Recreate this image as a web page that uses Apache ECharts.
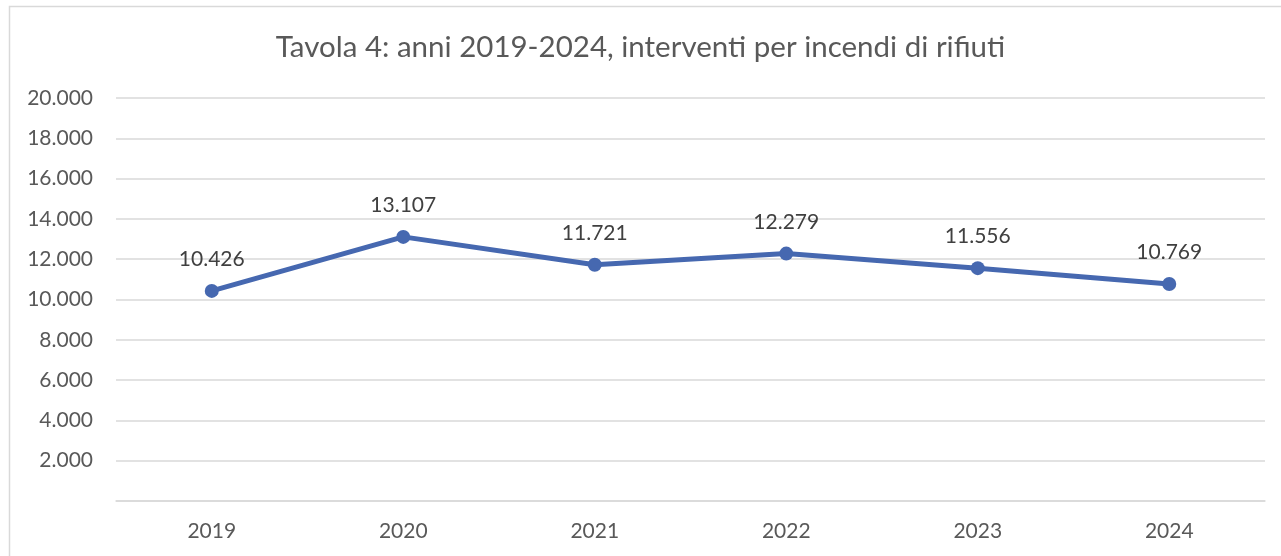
<!DOCTYPE html>
<html>
<head>
<meta charset="utf-8">
<script src="https://cdn.jsdelivr.net/npm/echarts@6/dist/echarts.min.js"></script>
<style>
  html, body { margin: 0; padding: 0; background: #ffffff; }
  #chart { width: 1281px; height: 556px; }
</style>
</head>
<body>
<div id="chart"></div>
<script>
// Yearly interventions for waste fires
const years = ['2019', '2020', '2021', '2022', '2023', '2024'];
const interventions = [10426, 13107, 11721, 12279, 11556, 10769];
const titleText = 'Tavola 4: anni 2019-2024, interventi per incendi di rifiuti';

const FONT = 'Lato, "Open Sans", sans-serif';
const TEXT = '#595959';
const GRID = '#d9d9d9';
const LINE = '#4668b0';

// Italian thousands separator
function fmt(v) {
  return String(v).replace(/\B(?=(\d{3})+(?!\d))/g, '.');
}

const chart = echarts.init(document.getElementById('chart'), null, { renderer: 'canvas' });
chart.setOption({
  backgroundColor: '#ffffff',
  animation: false,
  graphic: [{
    type: 'rect',
    shape: { x: 9.5, y: 6.5, width: 1300, height: 600 },
    style: { fill: 'none', stroke: GRID, lineWidth: 1.5 },
    silent: true,
    z: -1
  }],
  title: {
    text: titleText,
    left: 'center',
    top: 27,
    textStyle: { fontFamily: FONT, fontSize: 29.5, fontWeight: 'normal', color: TEXT }
  },
  grid: { left: 116, right: 16, top: 98, bottom: 55, containLabel: false },
  xAxis: {
    type: 'category',
    data: years,
    boundaryGap: true,
    axisLine: { show: true, lineStyle: { color: GRID, width: 1.5 } },
    axisTick: { show: false },
    axisLabel: { fontFamily: FONT, fontSize: 21, color: TEXT, margin: 20 }
  },
  yAxis: {
    type: 'value',
    min: 0,
    max: 20000,
    interval: 2000,
    axisLine: { show: false },
    axisTick: { show: false },
    splitLine: { lineStyle: { color: GRID, width: 1.5 } },
    axisLabel: {
      fontFamily: FONT, fontSize: 21, color: TEXT, margin: 23,
      formatter: v => (v === 0 ? '' : fmt(v))
    }
  },
  series: [{
    type: 'line',
    data: interventions,
    symbol: 'circle',
    symbolSize: 14,
    lineStyle: { color: LINE, width: 5 },
    itemStyle: { color: LINE },
    label: {
      show: true,
      position: 'top',
      distance: 14,
      fontFamily: FONT,
      fontSize: 21,
      color: '#404040',
      formatter: p => fmt(p.value)
    }
  }]
});
</script>
</body>
</html>
